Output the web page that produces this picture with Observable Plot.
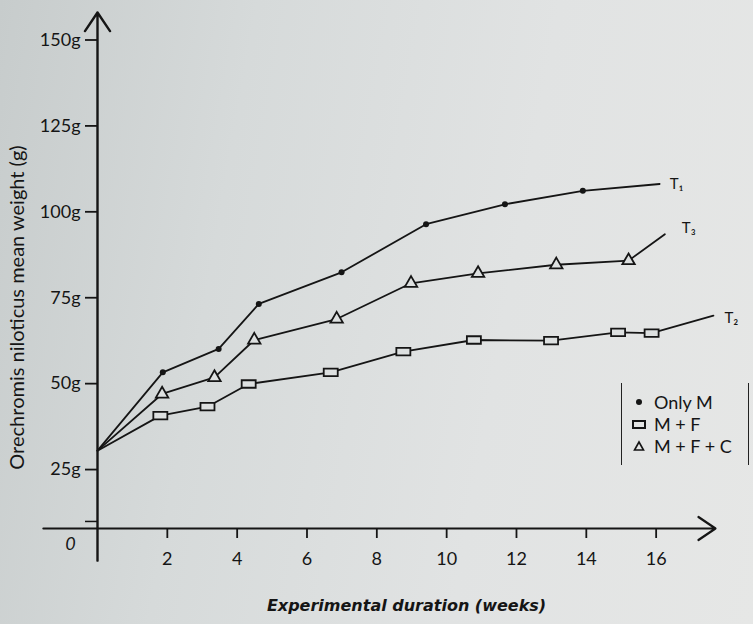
<!DOCTYPE html>
<html><head><meta charset="utf-8">
<script src="https://cdn.jsdelivr.net/npm/d3@7"></script>
<script src="https://cdn.jsdelivr.net/npm/@observablehq/plot@0.6"></script>
<style>
body{margin:0;background:#dcdfdf;}
#wrap{position:relative;width:753px;height:624px;overflow:hidden;
  background:linear-gradient(100deg,#c7cccc 0%,#d6dada 30%,#e1e3e3 65%,#e6e7e6 100%);
  font-family:Lato,"DejaVu Sans",sans-serif;color:#151515;}
#wrap svg{position:absolute;left:0;top:0;}
#legend{position:absolute;left:621px;top:383px;width:126px;height:82px;
  border-left:1.5px solid #222;border-right:1.5px solid #222;font-size:18px;}
#legend .row{display:flex;align-items:center;height:22px;margin-left:10px;}
#legend .row:first-child{margin-top:8px;}
#legend svg{position:static;margin-right:8px;}
</style></head><body>
<div id="wrap"></div>
<script>
// ---- data ----
const series = ["Only M", "M + F", "M + F + C"];
const seriesTags = ["T₁", "T₂", "T₃"];
const weeksOnlyM = [0, 1.87, 3.47, 4.62, 6.99, 9.41, 11.67, 13.90, 16.1];
const weightOnlyM = [30.5, 53.3, 60.1, 73.2, 82.4, 96.4, 102.2, 106.1, 108.1];
const weeksMF = [0, 1.8, 3.15, 4.33, 6.68, 8.76, 10.78, 12.99, 14.91, 15.87, 17.64];
const weightMF = [30.5, 40.7, 43.3, 49.9, 53.3, 59.3, 62.7, 62.5, 64.9, 64.7, 69.8];
const weeksMFC = [0, 1.85, 3.35, 4.49, 6.85, 8.98, 10.9, 13.14, 15.21, 16.25];
const weightMFC = [30.5, 47.0, 51.8, 62.7, 68.8, 79.2, 82.1, 84.6, 85.8, 93.5];
const yTickValues = [25, 50, 75, 100, 125, 150];
const xTickValues = [2, 4, 6, 8, 10, 12, 14, 16];
const yLabel = "Orechromis niloticus mean weight (g)";
const xLabel = "Experimental duration (weeks)";
const originLabel = "0";

// ---- layout / style ----
const X_DOMAIN = [0, 17.7];
const Y_DOMAIN = [7.85, 158];
const INK = "#151515";
const BG = "#dde0e0";
const tagOffsets = {"Only M": [10, 0], "M + F": [11, 3], "M + F + C": [17, -6]};

function rows(name, weeks, weights) {
  return weeks.map((w, i) => ({series: name, week: w, weight: weights[i],
    marked: i > 0 && i < weeks.length - 1, last: i === weeks.length - 1}));
}
const data = [
  ...rows(series[0], weeksOnlyM, weightOnlyM),
  ...rows(series[1], weeksMF, weightMF),
  ...rows(series[2], weeksMFC, weightMFC)
];

const rectSymbol = {draw(ctx, size) {
  const r = Math.sqrt(size / Math.PI);
  const w = 2.8 * r, h = 1.5 * r;
  ctx.rect(-w / 2, -h / 2, w, h);
}};

const marks = [];
// axes lines with arrows
marks.push(Plot.arrow([{a: -1.55, b: X_DOMAIN[1]}], {
  x1: d => d.a, x2: d => d.b, y1: () => Y_DOMAIN[0], y2: () => Y_DOMAIN[0],
  stroke: INK, strokeWidth: 2.2, headLength: 14, headAngle: 68, insetStart: 0, insetEnd: 0}));
marks.push(Plot.arrow([{a: -1.5, b: Y_DOMAIN[1]}], {
  x1: () => 0, x2: () => 0, y1: d => d.a, y2: d => d.b,
  stroke: INK, strokeWidth: 2.4, headLength: 14, headAngle: 68, insetStart: 0, insetEnd: 0}));
marks.push(Plot.axisY(yTickValues, {tickSize: 12, tickPadding: 5, tickFormat: d => d + "g",
  fontSize: 18, stroke: INK, strokeWidth: 1.8, color: INK, label: null}));
marks.push(Plot.axisY([9.9], {tickSize: 12, tickFormat: () => "", stroke: INK, strokeWidth: 1.5, label: null}));
marks.push(Plot.axisX(xTickValues, {tickSize: 10, tickPadding: 14, fontSize: 18, stroke: INK,
  strokeWidth: 1.8, color: INK, label: null}));
marks.push(Plot.text([originLabel], {x: () => 0, y: () => Y_DOMAIN[0], text: d => d,
  dx: -27, dy: 16, fontSize: 18, fontStyle: "italic", fill: INK}));
marks.push(Plot.text([yLabel], {frameAnchor: "left", textAnchor: "middle", rotate: -90, dx: -80, dy: 37,
  fontSize: 20, fill: INK, text: d => d}));
marks.push(Plot.text([xLabel], {frameAnchor: "bottom", dy: 82, fontSize: 16,
  fontWeight: "bold", fontStyle: "italic", fill: INK, text: d => d,
  fontFamily: "DejaVu Sans"}));

// series lines
marks.push(Plot.line(data, {x: "week", y: "weight", z: "series", stroke: INK, strokeWidth: 1.8}));
// markers
marks.push(Plot.dot(data.filter(d => d.marked && d.series === series[0]),
  {x: "week", y: "weight", r: 3, fill: INK}));
marks.push(Plot.dot(data.filter(d => d.marked && d.series === series[1]),
  {x: "week", y: "weight", r: 5, symbol: rectSymbol, fill: BG, stroke: INK, strokeWidth: 1.8}));
marks.push(Plot.dot(data.filter(d => d.marked && d.series === series[2]),
  {x: "week", y: "weight", r: 4.6, symbol: "triangle", fill: BG, stroke: INK, strokeWidth: 1.8}));
// end tags
series.forEach((s, i) => {
  const [dx, dy] = tagOffsets[s];
  marks.push(Plot.text(data.filter(d => d.last && d.series === s), {
    x: "week", y: "weight", text: () => seriesTags[i], dx, dy,
    textAnchor: "start", fontSize: 15, fill: INK}));
});

const chart = Plot.plot({
  width: 753, height: 624,
  marginLeft: 97, marginRight: 38, marginTop: 12, marginBottom: 96,
  x: {domain: X_DOMAIN},
  y: {domain: Y_DOMAIN},
  style: {background: "transparent", fontFamily: "Lato, 'DejaVu Sans', sans-serif", color: INK},
  marks
});
const wrap = document.getElementById("wrap");
wrap.appendChild(chart);

// legend
const legend = document.createElement("div");
legend.id = "legend";
const legendSymbols = [
  `<svg width="14" height="14"><circle cx="7" cy="7" r="3" fill="${INK}"/></svg>`,
  `<svg width="14" height="14"><rect x="1" y="4" width="12" height="7" fill="none" stroke="${INK}" stroke-width="2"/></svg>`,
  `<svg width="14" height="14"><path d="M7 3 L11.5 11 L2.5 11 Z" fill="none" stroke="${INK}" stroke-width="1.6"/></svg>`
];
series.forEach((s, i) => {
  const row = document.createElement("div");
  row.className = "row";
  row.innerHTML = legendSymbols[i] + `<span>${s}</span>`;
  legend.appendChild(row);
});
wrap.appendChild(legend);
</script>
</body></html>
